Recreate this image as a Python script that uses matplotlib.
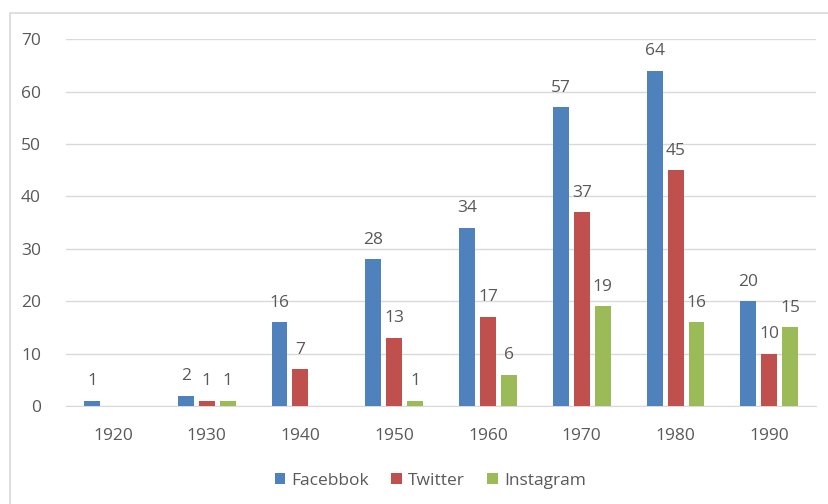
import matplotlib
matplotlib.use("Agg")
import matplotlib.pyplot as plt
from matplotlib.patches import Rectangle
import numpy as np

plt.rcParams['font.family'] = ['Open Sans', 'DejaVu Sans']

decades = ['1920', '1930', '1940', '1950', '1960', '1970', '1980', '1990']
facebook = [1, 2, 16, 28, 34, 57, 64, 20]
twitter = [0, 1, 7, 13, 17, 37, 45, 10]
instagram = [0, 1, 0, 1, 6, 19, 16, 15]
series_names = ['Facebbok', 'Twitter', 'Instagram']
colors = ['#4F81BD', '#C0504D', '#9BBB59']

fig = plt.figure(figsize=(8.29, 5.04), dpi=100)
ax = fig.add_axes([0.0796, 0.1944, 0.905, 0.728])

# outer chart border
fig.patches.append(Rectangle((10 / 829, -0.01), 1.0, (504 - 13) / 504 + 0.01,
                             transform=fig.transFigure, fill=False,
                             edgecolor='#D9D9D9', linewidth=1.2, zorder=0))

x = np.arange(len(decades))
w = 0.17
step = 0.223
txt = '#595959'
for i, (vals, name, c) in enumerate(zip([facebook, twitter, instagram], series_names, colors)):
    pos = x + (i - 1) * step
    bars = ax.bar(pos, vals, width=w, color=c, label=name, zorder=3)
    for p, v in zip(pos, vals):
        if v > 0:
            ax.text(p, v + 2.2, str(v), ha='center', va='bottom', fontsize=12.5, color=txt)

ax.set_xlim(-0.5, len(decades) - 0.5)
ax.set_ylim(0, 70)
ax.set_yticks(range(0, 71, 10))
ax.set_xticks(x)
ax.set_xticklabels(decades)
ax.grid(axis='y', color='#D9D9D9', linewidth=1.0, zorder=0)
for s in ['top', 'right', 'left']:
    ax.spines[s].set_visible(False)
ax.spines['bottom'].set_color('#D9D9D9')
ax.tick_params(axis='both', length=0, labelsize=12.5, colors=txt)
ax.tick_params(axis='y', pad=18)
ax.tick_params(axis='x', pad=16)

leg = fig.legend(loc='center', bbox_to_anchor=(0.519, 0.046), ncol=3, frameon=False,
                 fontsize=12.5, handlelength=0.6, handleheight=0.6, handletextpad=0.35,
                 columnspacing=1.3)
for t in leg.get_texts():
    t.set_color(txt)

fig.savefig('out.png', dpi=100)
